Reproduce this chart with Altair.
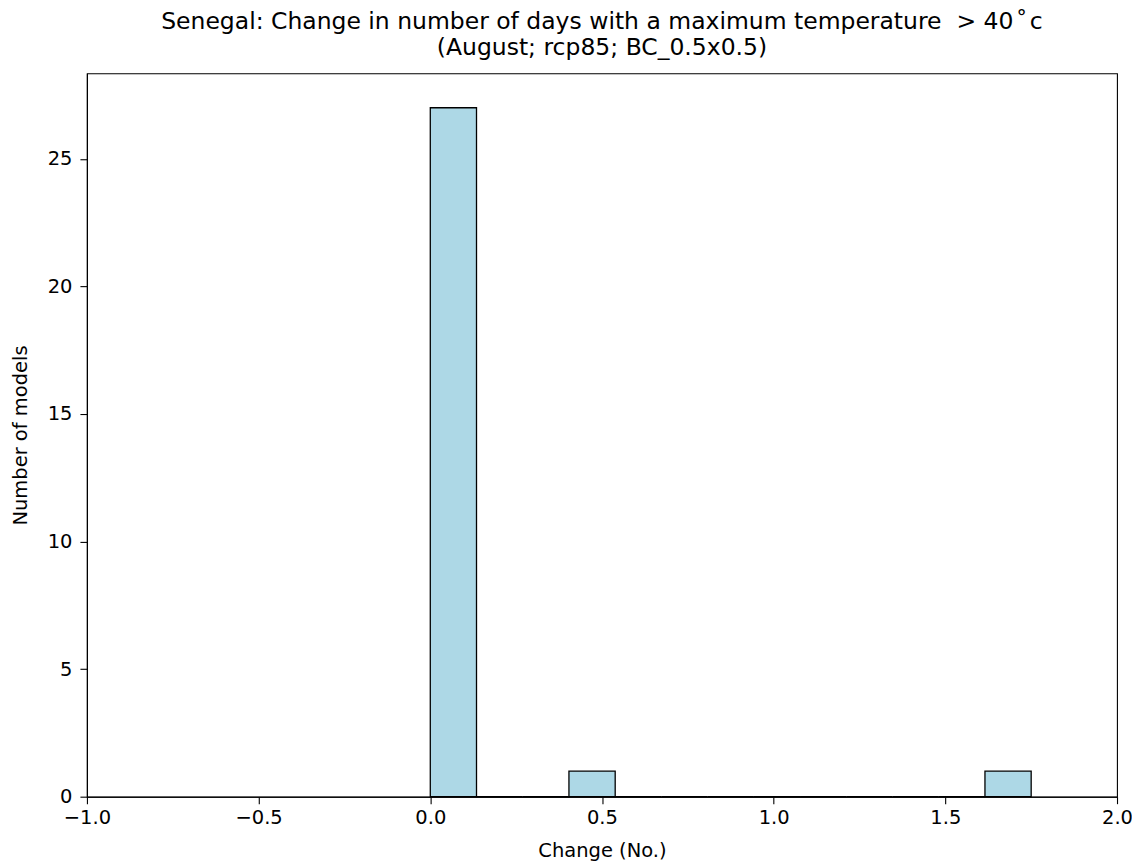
import altair as alt
import pandas as pd

bin_start = [0.0, 0.1346, 0.2692, 0.4038, 0.5385, 0.6731, 0.8077, 0.9423,
             1.0769, 1.2115, 1.3462, 1.4808, 1.6154]
bin_end = [0.1346, 0.2692, 0.4038, 0.5385, 0.6731, 0.8077, 0.9423, 1.0769,
           1.2115, 1.3462, 1.4808, 1.6154, 1.75]
counts = [27, 0, 0, 1, 0, 0, 0, 0, 0, 0, 0, 0, 1]

x_ticks = [-1.0, -0.5, 0.0, 0.5, 1.0, 1.5, 2.0]
y_ticks = [0, 5, 10, 15, 20, 25]

df = pd.DataFrame({"start": bin_start, "end": bin_end, "count": counts})

font = "DejaVu Sans"
fs = 19.5

common = dict(grid=False, tickSize=7, tickWidth=1.1, domainWidth=1.1,
              domainColor="black", tickColor="black",
              labelColor="black", titleColor="black",
              labelFontSize=fs, titleFontSize=fs,
              labelFont=font, titleFont=font,
              labelFlush=False, titleFontWeight="normal")

bars = alt.Chart(df).mark_rect(
    fill="#add8e6", stroke="black", strokeWidth=1.3
).encode(
    x=alt.X("start:Q",
            scale=alt.Scale(domain=[-1, 2], nice=False, zero=False),
            axis=alt.Axis(values=x_ticks, format=".1f", title="Change (No.)",
                          labelPadding=5, titlePadding=14, **common)),
    x2="end:Q",
    y=alt.Y("count:Q",
            scale=alt.Scale(domain=[0, 28.35], nice=False),
            axis=alt.Axis(values=y_ticks, title="Number of models",
                          labelPadding=8, titlePadding=17, **common)),
    y2=alt.datum(0),
)

chart = bars.properties(
    width=1031,
    height=724,
    title=alt.TitleParams(
        text=["Senegal: Change in number of days with a maximum temperature\u00a0\u00a0>\u00a040\u200a\u02da\u200ac",
              "(August; rcp85; BC_0.5x0.5)"],
        font=font, fontSize=23.5, fontWeight="normal", color="black",
        anchor="middle", lineHeight=26, offset=14, baseline="bottom", dy=24,
    ),
    autosize=alt.AutoSizeParams(type="none"),
    padding={"left": 79, "top": 65, "right": 15, "bottom": 70},
).configure_view(stroke="black", strokeWidth=1.1)

chart.save("out.html", embed_options={"renderer": "svg", "actions": False})
